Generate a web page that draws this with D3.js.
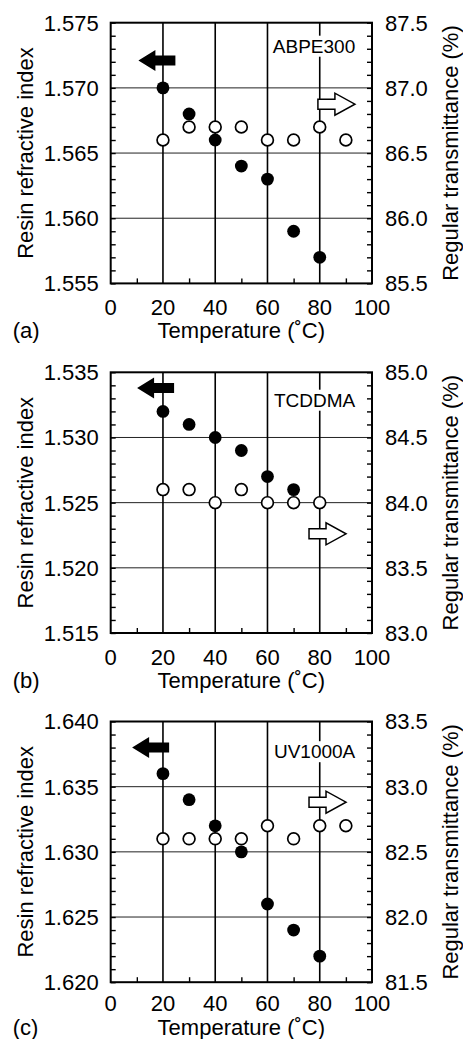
<!DOCTYPE html>
<html>
<head>
<meta charset="utf-8">
<script src="https://cdn.jsdelivr.net/npm/d3@7"></script>
<style>
  body { margin: 0; background: #fff; }
  svg { display: block; }
  text { font-family: "Liberation Sans", Arial, sans-serif; fill: #000; }
</style>
</head>
<body>
<svg width="463" height="1039"></svg>
<script>
// values (a) ABPE300, (b) TCDDMA, (c) UV1000A
const materials = ["ABPE300", "TCDDMA", "UV1000A"];
const panelTags = ["(a)", "(b)", "(c)"];
const indexRanges = [[1.555, 1.575], [1.515, 1.535], [1.620, 1.640]];
const transRanges = [[85.5, 87.5], [83.0, 85.0], [81.5, 83.5]];

const indexTemps = [[20, 30, 40, 50, 60, 70, 80], [20, 30, 40, 50, 60, 70], [20, 30, 40, 50, 60, 70, 80]];
const indexVals = [
  [1.570, 1.568, 1.566, 1.564, 1.563, 1.559, 1.557],
  [1.532, 1.531, 1.530, 1.529, 1.527, 1.526],
  [1.636, 1.634, 1.632, 1.630, 1.626, 1.624, 1.622]
];
const transTemps = [[20, 30, 40, 50, 60, 70, 80, 90], [20, 30, 40, 50, 60, 70, 80], [20, 30, 40, 50, 60, 70, 80, 90]];
const transVals = [
  [86.6, 86.7, 86.7, 86.7, 86.6, 86.6, 86.7, 86.6],
  [84.1, 84.1, 84.0, 84.1, 84.0, 84.0, 84.0],
  [82.6, 82.6, 82.6, 82.6, 82.7, 82.6, 82.7, 82.7]
];
const xTicks = [0, 20, 40, 60, 80, 100];
const xMinor = [10, 30, 50, 70, 90];

// layout
const left = 110.7, plotW = 261.3, plotH = 260.7;
const panelTops = [22.7, 372.3, 721.5];
// arrow spots: filled one in (temp, index) units, open one in (temp, transmittance) units
const filledArrowAt = [[10.6, 1.5721], [10.1, 1.5338], [8.2, 1.6380]];
const openArrowAt = [[79.3, 86.875], [75.9, 83.761], [75.9, 82.881]];
const labelDrop = [30, 34.4, 36.7];
const tickDrop = [31.7, 31.7, 28.5];
const titleDrop = [55, 55, 53];

const svg = d3.select("svg");
const fontSize = 22;

materials.forEach((name, i) => {
  const top = panelTops[i];
  const g = svg.append("g").attr("transform", `translate(${left},${top})`);

  const x = d3.scaleLinear().domain([0, 100]).range([0, plotW]);
  const yL = d3.scaleLinear().domain(indexRanges[i]).range([plotH, 0]);
  const yR = d3.scaleLinear().domain(transRanges[i]).range([plotH, 0]);

  const lo = indexRanges[i][0];
  const leftMajor = d3.range(0, 5).map(k => +(lo + k * 0.005).toFixed(3));
  const leftMinor = d3.range(0, 21).map(k => +(lo + k * 0.001).toFixed(3));
  const rlo = transRanges[i][0];
  const rightMajor = d3.range(0, 5).map(k => +(rlo + k * 0.5).toFixed(1));
  const rightMinor = d3.range(0, 21).map(k => +(rlo + k * 0.1).toFixed(1));

  // grid
  g.selectAll(".hgrid").data(leftMajor.slice(1, 4)).join("line")
    .attr("x1", 0).attr("x2", plotW)
    .attr("y1", d => yL(d)).attr("y2", d => yL(d))
    .attr("stroke", "#222").attr("stroke-width", 1);
  g.selectAll(".vgrid").data(xTicks.slice(1, 5)).join("line")
    .attr("x1", d => x(d)).attr("x2", d => x(d))
    .attr("y1", 0).attr("y2", plotH)
    .attr("stroke", "#000").attr("stroke-width", 1.6);

  // inward ticks
  const axL = d3.axisLeft(yL).tickValues(leftMinor).tickSize(-5).tickFormat("");
  g.append("g").call(axL).call(a => a.select(".domain").remove())
    .selectAll("line").attr("stroke-width", 1.4);
  const axR = d3.axisRight(yR).tickValues(rightMinor).tickSize(-5).tickFormat("");
  g.append("g").attr("transform", `translate(${plotW},0)`).call(axR)
    .call(a => a.select(".domain").remove())
    .selectAll("line").attr("stroke-width", 1.4);
  const axB = d3.axisBottom(x).tickValues(xMinor).tickSize(-5).tickFormat("");
  g.append("g").attr("transform", `translate(0,${plotH})`).call(axB)
    .call(a => a.select(".domain").remove())
    .selectAll("line").attr("stroke-width", 1.4);

  // frame
  g.append("rect").attr("width", plotW).attr("height", plotH)
    .attr("fill", "none").attr("stroke", "#000").attr("stroke-width", 2);

  // tick labels
  g.selectAll(".ll").data(leftMajor).join("text")
    .attr("x", -12).attr("y", d => yL(d)).attr("dy", "0.36em")
    .attr("text-anchor", "end").attr("font-size", fontSize)
    .text(d => d3.format(".3f")(d));
  g.selectAll(".rl").data(rightMajor).join("text")
    .attr("x", plotW + 13).attr("y", d => yR(d)).attr("dy", "0.36em")
    .attr("font-size", fontSize)
    .text(d => d3.format(".1f")(d));
  g.selectAll(".bl").data(xTicks).join("text")
    .attr("x", d => x(d)).attr("y", plotH + tickDrop[i])
    .attr("text-anchor", "middle").attr("font-size", fontSize)
    .text(d => d);

  // axis titles
  g.append("text").attr("transform", `translate(-78,${plotH / 2}) rotate(-90)`)
    .attr("text-anchor", "middle").attr("font-size", fontSize)
    .text("Resin refractive index");
  g.append("text").attr("transform", `translate(${plotW + 86},${plotH / 2}) rotate(-90)`)
    .attr("text-anchor", "middle").attr("font-size", fontSize)
    .text("Regular transmittance (%)");
  g.append("text").attr("x", plotW / 2).attr("y", plotH + titleDrop[i])
    .attr("text-anchor", "middle").attr("font-size", fontSize)
    .text("Temperature (˚C)");
  g.append("text").attr("x", -98).attr("y", plotH + titleDrop[i])
    .attr("font-size", fontSize).text(panelTags[i]);

  // material label with white backing
  const lab = g.append("text").attr("x", x(93.6)).attr("y", labelDrop[i])
    .attr("text-anchor", "end").attr("font-size", 19).text(name);
  const bb = lab.node().getBBox();
  g.insert("rect", () => lab.node())
    .attr("x", bb.x - 2).attr("y", bb.y).attr("width", bb.width + 4).attr("height", bb.height)
    .attr("fill", "#fff");

  // arrows
  const fa = filledArrowAt[i];
  g.append("path")
    .attr("transform", `translate(${x(fa[0])},${yL(fa[1])})`)
    .attr("d", "M0,0 L17,-10.5 L17,-5 L37,-5 L37,5 L17,5 L17,10.5 Z")
    .attr("fill", "#000");
  const oa = openArrowAt[i];
  g.append("path")
    .attr("transform", `translate(${x(oa[0])},${yR(oa[1])})`)
    .attr("d", "M0,-5 L17,-5 L17,-11 L37,0 L17,11 L17,5 L0,5 Z")
    .attr("fill", "#fff").attr("stroke", "#000").attr("stroke-width", 1.5)
    .attr("stroke-linejoin", "miter");

  // data points
  const idx = indexTemps[i].map((t, k) => ({ t, v: indexVals[i][k] }));
  const trn = transTemps[i].map((t, k) => ({ t, v: transVals[i][k] }));
  g.selectAll(".idx").data(idx).join("circle")
    .attr("cx", d => x(d.t)).attr("cy", d => yL(d.v)).attr("r", 6.4)
    .attr("fill", "#000");
  g.selectAll(".trn").data(trn).join("circle")
    .attr("cx", d => x(d.t)).attr("cy", d => yR(d.v)).attr("r", 5.9)
    .attr("fill", "#fff").attr("stroke", "#000").attr("stroke-width", 1.7);
});
</script>
</body>
</html>
